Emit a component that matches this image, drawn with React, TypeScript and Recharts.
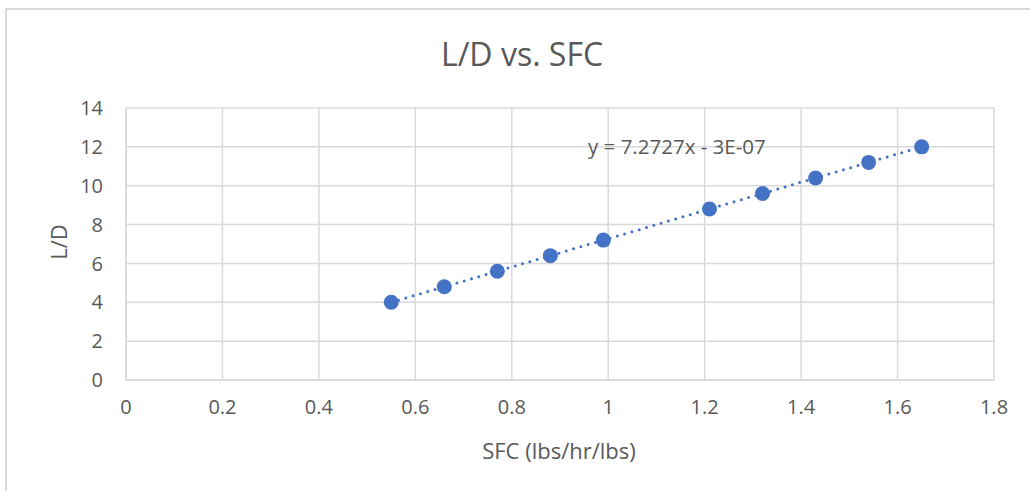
import React from 'react';
import { ComposedChart, Line, Scatter, XAxis, YAxis, CartesianGrid } from 'recharts';

const sfc = [0.55, 0.66, 0.77, 0.88, 0.99, 1.21, 1.32, 1.43, 1.54, 1.65];
const liftDrag = [4, 4.8, 5.6, 6.4, 7.2, 8.8, 9.6, 10.4, 11.2, 12];
const xTicks = [0, 0.2, 0.4, 0.6, 0.8, 1, 1.2, 1.4, 1.6, 1.8];
const yTicks = [0, 2, 4, 6, 8, 10, 12, 14];

const chartTitle = 'L/D vs. SFC';
const xTitle = 'SFC (lbs/hr/lbs)';
const yTitle = 'L/D';
const trendLabel = 'y = 7.2727x - 3E-07';

const data = sfc.map((x, i) => ({ x, y: liftDrag[i] }));

const FONT = '"Open Sans", "Liberation Sans", sans-serif';
const TEXT = '#595959';
const GRID = '#d9d9d9';
const BLUE = '#4472C4';

const App = () => {
  return (
    <div style={{ position: 'absolute', left: 0, top: 0, width: 1030, height: 491, background: '#fff' }}>
      {/* chart frame, cropped at right and bottom */}
      <div style={{
        position: 'absolute', left: 5, top: 8, width: 1100, height: 600,
        borderLeft: `2px solid ${GRID}`, borderTop: `2px solid ${GRID}`,
      }} />
      <ComposedChart
        width={1030}
        height={491}
        data={data}
        margin={{ top: 108, right: 36, bottom: 51, left: 0 }}
        style={{ position: 'absolute', left: 0, top: 0 }}
      >
        <CartesianGrid stroke={GRID} strokeWidth={1.5} />
        <XAxis
          type="number"
          dataKey="x"
          domain={[0, 1.8]}
          ticks={xTicks}
          height={60}
          tickSize={0}
          tickMargin={20}
          tick={{ fill: TEXT, fontSize: 20, fontFamily: FONT }}
          axisLine={{ stroke: GRID, strokeWidth: 1.5 }}
        />
        <YAxis
          type="number"
          dataKey="y"
          domain={[0, 14]}
          ticks={yTicks}
          width={126}
          tickSize={0}
          tickMargin={23}
          tick={{ fill: TEXT, fontSize: 20, fontFamily: FONT }}
          axisLine={{ stroke: GRID, strokeWidth: 1.5 }}
        />
        {/* linear trendline, dotted */}
        <Line
          type="linear"
          dataKey="y"
          stroke={BLUE}
          strokeWidth={3}
          strokeDasharray="0 7.6"
          strokeLinecap="round"
          dot={false}
          activeDot={false}
          isAnimationActive={false}
        />
        <Scatter
          dataKey="y"
          fill={BLUE}
          shape={(p: any) => <circle cx={p.cx} cy={p.cy} r={7.5} fill={BLUE} />}
          isAnimationActive={false}
        />
      </ComposedChart>
      <svg width={1030} height={491} style={{ position: 'absolute', left: 0, top: 0, pointerEvents: 'none' }}>
        <text x={522} y={53} textAnchor="middle" dominantBaseline="central" fontSize={32} fontFamily={FONT} fill={TEXT}>
          {chartTitle}
        </text>
        <text x={559} y={450} textAnchor="middle" dominantBaseline="central" fontSize={22} fontFamily={FONT} fill={TEXT}>
          {xTitle}
        </text>
        <text x={58} y={242} textAnchor="middle" dominantBaseline="central" fontSize={22} fontFamily={FONT} fill={TEXT}
          transform="rotate(-90 58 242)">
          {yTitle}
        </text>
        <text x={588} y={146} textAnchor="start" dominantBaseline="central" fontSize={20.5} fontFamily={FONT} fill={TEXT}>
          {trendLabel}
        </text>
      </svg>
    </div>
  );
};

export default App;
